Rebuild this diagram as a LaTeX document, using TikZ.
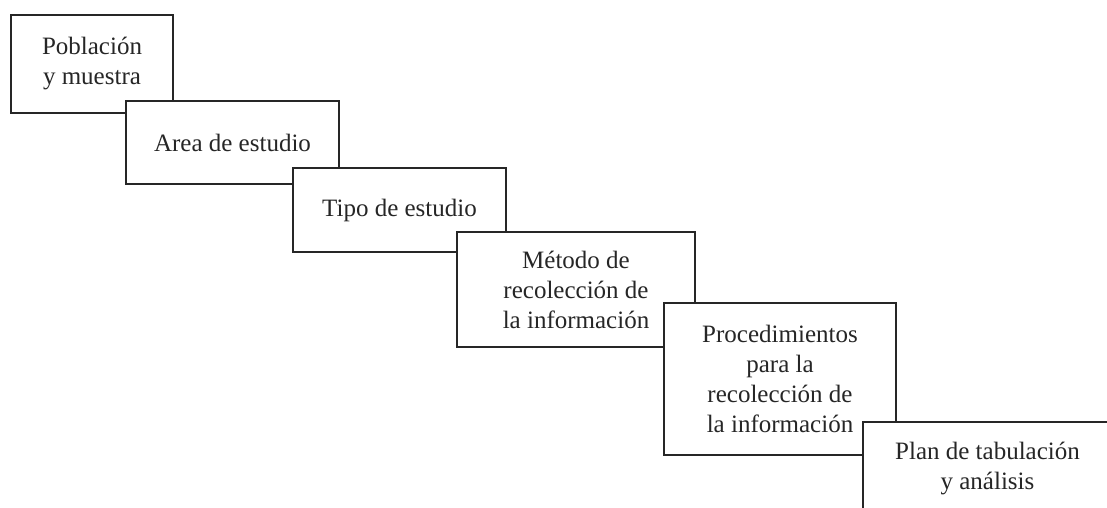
\documentclass[tikz,border=0pt]{standalone}
\usepackage{fontspec}
\setmainfont{Liberation Serif}
\begin{document}
\begin{tikzpicture}[x=1pt,y=-1pt,
  caja/.style={draw=black!85,line width=1.8pt,fill=white,text=black!85,align=center,inner sep=0pt,font=\fontsize{25}{30}\selectfont}]
  \useasboundingbox (0,0) rectangle (1107,508);
  \clip (0,0) rectangle (1107,508);

  \node[caja,minimum width=162pt,minimum height=98pt] (pob) at (92,64) {Población\\y muestra};
  \node[caja,minimum width=213pt,minimum height=83pt] (area) at (232.5,142.5) {Area de estudio};
  \node[caja,minimum width=213pt,minimum height=84pt] (tipo) at (399.5,210) {Tipo de estudio};
  \node[caja,minimum width=238pt,minimum height=115pt] (metodo) at (576,289.5) {Método de\\recolección de\\la información};
  \node[caja,minimum width=232pt,minimum height=152pt] (proc) at (780,379) {Procedimientos\\para la\\recolección de\\la información};
  \node[caja,minimum width=249pt,minimum height=93pt] (plan) at (987.5,468.5) {Plan de tabulación\\y análisis};
\end{tikzpicture}
\end{document}
